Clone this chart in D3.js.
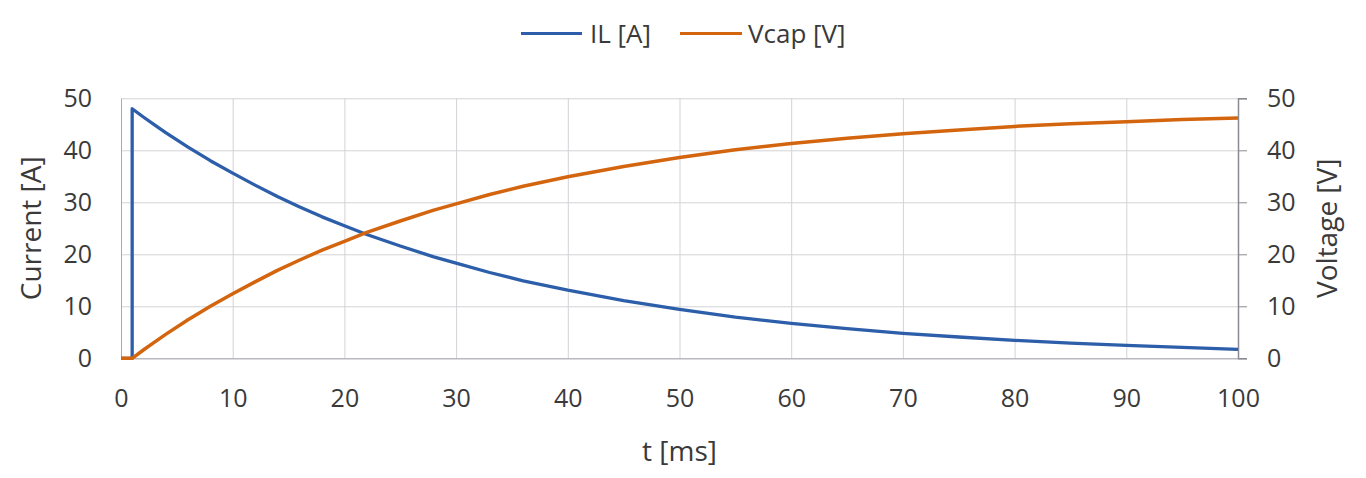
<!DOCTYPE html>
<html>
<head>
<meta charset="utf-8">
<script src="https://cdn.jsdelivr.net/npm/d3@7"></script>
<style>
  html, body { margin: 0; padding: 0; background: #ffffff; }
  svg { display: block; font-family: "Open Sans", "DejaVu Sans", sans-serif; }
</style>
</head>
<body>
<svg id="chart" width="1366" height="478"></svg>
<script>
// ---- data ----
const timeMs = [0, 1, 1, 2, 3, 4, 6, 8, 10, 12, 14, 16, 18, 20, 22, 25, 28, 30, 33, 36, 40, 45, 50, 55, 60, 65, 70, 75, 80, 85, 90, 95, 100];
const currentIL = [0, 0, 48, 46.4, 44.9, 43.4, 40.6, 38.0, 35.6, 33.3, 31.1, 29.1, 27.2, 25.5, 23.8, 21.6, 19.5, 18.3, 16.5, 14.9, 13.1, 11.1, 9.4, 7.9, 6.7, 5.7, 4.8, 4.1, 3.45, 2.9, 2.5, 2.1, 1.7];
const voltageVcap = [0, 0, 0, 1.6, 3.1, 4.6, 7.4, 10.0, 12.4, 14.7, 16.9, 18.9, 20.8, 22.5, 24.2, 26.4, 28.5, 29.7, 31.5, 33.1, 34.9, 36.9, 38.6, 40.1, 41.3, 42.3, 43.2, 43.9, 44.6, 45.1, 45.5, 45.9, 46.2];
const xTicks = [0, 10, 20, 30, 40, 50, 60, 70, 80, 90, 100];
const yTicks = [0, 10, 20, 30, 40, 50];
const seriesNames = ["IL [A]", "Vcap [V]"];
const seriesColors = ["#2c5eaa", "#d4650f"];

// ---- layout ----
const svg = d3.select("#chart");
const pLeft = 121, pRight = 1238, pTop = 98.3, pBottom = 358.3;
const x = d3.scaleLinear().domain([0, 100]).range([pLeft, pRight]);
const yL = d3.scaleLinear().domain([0, 50]).range([pBottom, pTop]);
const yR = d3.scaleLinear().domain([0, 50]).range([pBottom, pTop]);
const textColor = "#3a3a3a";
const gridColor = "#d3d3d8";

// grid
svg.append("g")
  .attr("transform", `translate(${pLeft},0)`)
  .call(d3.axisLeft(yL).tickValues(yTicks).tickSize(-(pRight - pLeft)).tickFormat(""))
  .call(g => g.select(".domain").remove())
  .call(g => g.selectAll("line").attr("stroke", gridColor).attr("stroke-width", 1));
svg.append("g")
  .attr("transform", `translate(0,${pBottom})`)
  .call(d3.axisBottom(x).tickValues(xTicks).tickSize(-(pBottom - pTop)).tickFormat(""))
  .call(g => g.select(".domain").remove())
  .call(g => g.selectAll("line").attr("stroke", gridColor).attr("stroke-width", 1));

// left axis
svg.append("g")
  .attr("transform", `translate(${pLeft},0)`)
  .call(d3.axisLeft(yL).tickValues(yTicks).tickSize(0).tickPadding(29))
  .call(g => g.select(".domain").attr("stroke", "#a9a9b0"))
  .call(g => g.selectAll("text").attr("fill", textColor).attr("font-size", 25).attr("font-family", "Open Sans, sans-serif"));

// right axis
svg.append("g")
  .attr("transform", `translate(${pRight},0)`)
  .call(d3.axisRight(yR).tickValues(yTicks).tickSize(9).tickPadding(20))
  .call(g => g.select(".domain").attr("stroke", "#8a8a92").attr("stroke-width", 1.5))
  .call(g => g.selectAll("line").attr("stroke", "#8a8a92"))
  .call(g => g.selectAll("text").attr("fill", textColor).attr("font-size", 25).attr("font-family", "Open Sans, sans-serif"));

// bottom axis
svg.append("g")
  .attr("transform", `translate(0,${pBottom})`)
  .call(d3.axisBottom(x).tickValues(xTicks).tickSize(0).tickPadding(31))
  .call(g => g.select(".domain").attr("stroke", "#a9a9b0"))
  .call(g => g.selectAll("text").attr("fill", textColor).attr("font-size", 25).attr("font-family", "Open Sans, sans-serif"));

// axis titles
svg.append("text")
  .attr("transform", `translate(41,${(pTop + pBottom) / 2}) rotate(-90)`)
  .attr("text-anchor", "middle")
  .attr("fill", textColor).attr("font-size", 28)
  .text("Current [A]");
svg.append("text")
  .attr("transform", `translate(1337,${(pTop + pBottom) / 2}) rotate(-90)`)
  .attr("text-anchor", "middle")
  .attr("fill", textColor).attr("font-size", 28)
  .text("Voltage [V]");
svg.append("text")
  .attr("x", (pLeft + pRight) / 2).attr("y", 461)
  .attr("text-anchor", "middle")
  .attr("fill", textColor).attr("font-size", 28)
  .text("t [ms]");

// lines
const idx = d3.range(timeMs.length);
const lineIL = d3.line().x(i => x(timeMs[i])).y(i => yL(currentIL[i]));
const lineV = d3.line().x(i => x(timeMs[i])).y(i => yR(voltageVcap[i]));
svg.append("path").datum(idx).attr("d", lineIL)
  .attr("fill", "none").attr("stroke", seriesColors[0]).attr("stroke-width", 3.3)
  .attr("stroke-linejoin", "round");
svg.append("path").datum(idx).attr("d", lineV)
  .attr("fill", "none").attr("stroke", seriesColors[1]).attr("stroke-width", 3.5)
  .attr("stroke-linejoin", "round");

// legend
const legendItems = [
  { x1: 521, x2: 582, tx: 590 },
  { x1: 680, x2: 742, tx: 748 }
];
const lg = svg.append("g");
legendItems.forEach((d, i) => {
  lg.append("line").attr("x1", d.x1).attr("x2", d.x2).attr("y1", 33.5).attr("y2", 33.5)
    .attr("stroke", seriesColors[i]).attr("stroke-width", 3);
  lg.append("text").attr("x", d.tx).attr("y", 42.5)
    .attr("fill", textColor).attr("font-size", 26)
    .text(seriesNames[i]);
});
</script>
</body>
</html>
